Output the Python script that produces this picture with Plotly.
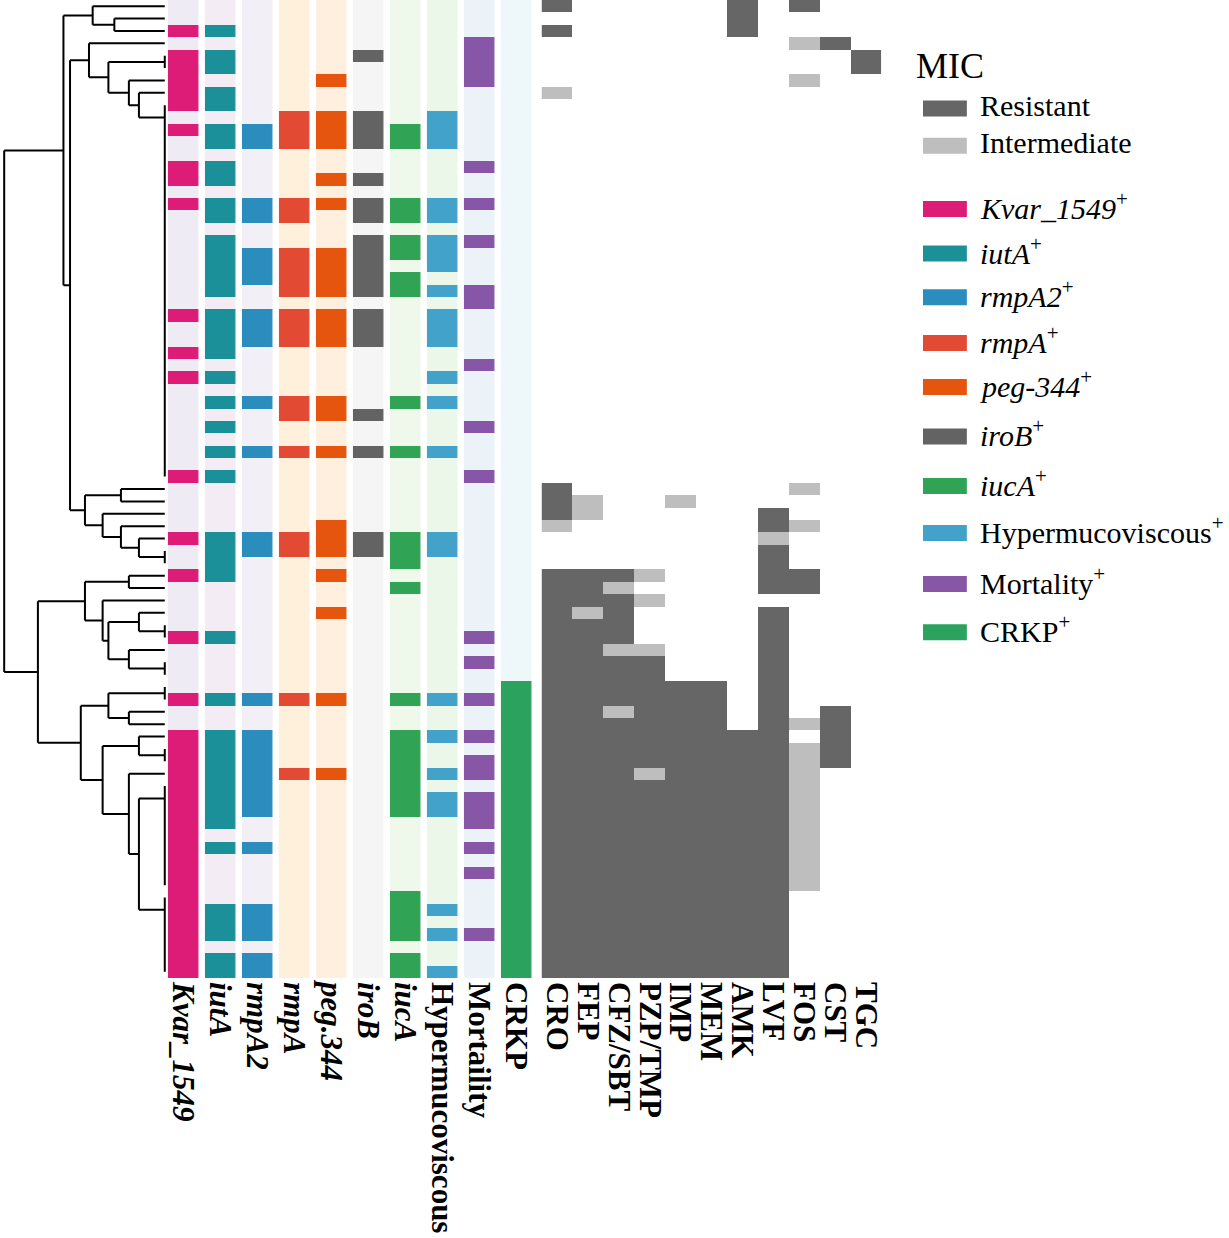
import plotly.graph_objects as go

N_ROWS = 79

# ---------------- annotation columns (rows that are positive) ----------------
ANNOT_NAMES = ["Kvar_1549", "iutA", "rmpA2", "rmpA", "peg.344", "iroB", "iucA",
               "Hypermucoviscous", "Mortaility", "CRKP"]
ANNOT_ITALIC = [True, True, True, True, True, True, True, False, False, False]
LEGEND_NAMES = ["Kvar_1549", "iutA", "rmpA2", "rmpA", "peg-344", "iroB", "iucA",
                "Hypermucoviscous", "Mortality", "CRKP"]
POS_COLORS = ["#DD1C77", "#1C9099", "#2B8CBE", "#E34A33", "#E6550D", "#636363",
              "#31A354", "#43A2CA", "#8856A7", "#2CA25F"]
NEG_COLORS = ["#EFEBF5", "#F3ECF5", "#F3EFF7", "#FEF0DB", "#FEEFDF", "#F5F5F5",
              "#EEF8EB", "#EBF7E8", "#EBF3F8", "#EEF8FB"]

KVAR_1549 = [2, 4, 5, 6, 7, 8, 10, 13, 14, 16, 25, 28, 30, 38, 43, 46, 51, 56,
             59, 60, 61, 62, 63, 64, 65, 66, 67, 68, 69, 70, 71, 72, 73, 74, 75, 76, 77, 78]
IUTA = [2, 4, 5, 7, 8, 10, 11, 13, 14, 16, 17, 19, 20, 21, 22, 23, 25, 26, 27, 28, 30,
        32, 34, 36, 38, 43, 44, 45, 46, 51, 56, 59, 60, 61, 62, 63, 64, 65, 66, 68,
        73, 74, 75, 77, 78]
RMPA2 = [10, 11, 16, 17, 20, 21, 22, 25, 26, 27, 32, 36, 43, 44, 56, 59, 60, 61, 62,
         63, 64, 65, 68, 73, 74, 75, 77, 78]
RMPA = [9, 10, 11, 16, 17, 20, 21, 22, 23, 25, 26, 27, 32, 33, 36, 43, 44, 56, 62]
PEG344 = [6, 9, 10, 11, 14, 16, 20, 21, 22, 23, 25, 26, 27, 32, 33, 36, 42, 43, 44,
          46, 49, 56, 62]
IROB = [4, 9, 10, 11, 14, 16, 17, 19, 20, 21, 22, 23, 25, 26, 27, 33, 36, 43, 44]
IUCA = [10, 11, 16, 17, 19, 20, 22, 23, 32, 36, 43, 44, 45, 47, 56, 59, 60, 61, 62,
        63, 64, 65, 72, 73, 74, 75, 77, 78]
HYPERMUCOVISCOUS = [9, 10, 11, 16, 17, 19, 20, 21, 23, 25, 26, 27, 30, 32, 36, 43, 44,
                    56, 59, 62, 64, 65, 73, 75, 78]
MORTALITY = [3, 4, 5, 6, 13, 16, 19, 23, 24, 29, 34, 38, 51, 53, 56, 59, 61, 62, 64,
             65, 66, 68, 70, 75]
CRKP = [55, 56, 57, 58, 59, 60, 61, 62, 63, 64, 65, 66, 67, 68, 69, 70, 71, 72, 73,
        74, 75, 76, 77, 78]
ANNOT_DATA = [KVAR_1549, IUTA, RMPA2, RMPA, PEG344, IROB, IUCA, HYPERMUCOVISCOUS,
              MORTALITY, CRKP]

# ---------------- MIC (S = '.', I = intermediate, R = resistant) ----------------
MIC_NAMES = ["CRO", "FEP", "CFZ/SBT", "PZP/TMP", "IMP", "MEM", "AMK", "LVF", "FOS",
             "CST", "TGC"]
MIC_DATA = {
    "CRO":     "R.R....I.. .......... .......... .........R RRI...RRRR RRRRRRRRRR RRRRRRRRRR RRRRRRRRR",
    "FEP":     ".......... .......... .......... .......... II....RRRI RRRRRRRRRR RRRRRRRRRR RRRRRRRRR",
    "CFZ/SBT": ".......... .......... .......... .......... ......RIRR RRIRRRRIRR RRRRRRRRRR RRRRRRRRR",
    "PZP/TMP": ".......... .......... .......... .......... ......I.I. ..IRRRRRRR RRIRRRRRRR RRRRRRRRR",
    "IMP":     ".......... .......... .......... .......... I......... .....RRRRR RRRRRRRRRR RRRRRRRRR",
    "MEM":     ".......... .......... .......... .......... .......... .....RRRRR RRRRRRRRRR RRRRRRRRR",
    "AMK":     "RRR....... .......... .......... .......... .......... .........R RRRRRRRRRR RRRRRRRRR",
    "LVF":     ".......... .......... .......... .......... .RRIRRRR.R RRRRRRRRRR RRRRRRRRRR RRRRRRRRR",
    "FOS":     "R..I..I... .......... .......... .........I ..I...RR.. ........I. IIIIIIIIII II.......",
    "CST":     "...R...... .......... .......... .......... .......... .......RRR RR........ .........",
    "TGC":     "....RR.... .......... .......... .......... .......... .......... .......... .........",
}
MIC_CODES = {".": 0, "I": 1, "R": 2}
MIC_COLORS = ["#FFFFFF", "#BEBEBE", "#666666"]
MIC_LEGEND = ["Resistant", "Intermediate"]

# ---------------- dendrogram: [height, child, child, ...]; ints are rows ----------------
TREE = [1.0,
        [0.631,
         [0.449, 0, [0.314, 1, 2]],
         [0.590,
          [0.472, 3,
           [0.351, [0.0, 4, 5],
            [0.2235, 6,
             [0.161, 7,
              [0.0, 8, 9, 10, 11, 12, 13, 14, 15, 16, 17, 18, 19, 20, 21, 22, 23, 24,
               25, 26, 27, 28, 29, 30, 31, 32, 33, 34, 35, 36, 37, 38]]]]],
          [0.497, [0.273, 39, 40],
           [0.387, 41, [0.273, 42, [0.161, 43, [0.0, 44, 45]]]]]]],
        [0.790,
         [0.497, [0.2235, 46, 47],
          [0.387, 48, [0.351, [0.161, 49, [0.0, 50, 51]], [0.2235, 52, [0.0, 53, 54]]]]],
         [0.523,
          [0.351, [0.0, 55, 56], [0.2235, 57, 58]],
          [0.387, [0.161, 59, [0.0, 60, 61]],
           [0.2235, 62, [0.161, [0.0, 63, 64, 65, 66, 67, 68, 69, 70, 71],
                         [0.0, 72, 73, 74, 75, 76, 77, 78]]]]]]]

# ---------------- build traces ----------------
seg_x, seg_y = [], []


def walk(node):
    if isinstance(node, int):
        return float(node), 0.0
    h = node[0]
    info = [walk(c) for c in node[1:]]
    ys = [p for p, _ in info]
    seg_x.extend([h, h, None])
    seg_y.extend([min(ys), max(ys), None])
    for p, ch in info:
        if h > ch:
            seg_x.extend([h, ch, None])
            seg_y.extend([p, p, None])
    pos = ys[-1]
    for p in reversed(ys[:-1]):
        pos = (p + pos) / 2.0
    return pos, h


walk(TREE)

rows = list(range(N_ROWS))
annot_z = []
for r in rows:
    annot_z.append([2 * c + (1 if r in ANNOT_DATA[c] else 0) for c in range(len(ANNOT_NAMES))])

n_cat = 2 * len(ANNOT_NAMES)
annot_scale = []
for c in range(len(ANNOT_NAMES)):
    for k, col in enumerate([NEG_COLORS[c], POS_COLORS[c]]):
        idx = 2 * c + k
        annot_scale.append([idx / n_cat, col])
        annot_scale.append([(idx + 1) / n_cat, col])

mic_strings = [MIC_DATA[m].replace(" ", "") for m in MIC_NAMES]
mic_z = [[MIC_CODES[s[r]] for s in mic_strings] for r in rows]
mic_scale = []
for k, col in enumerate(MIC_COLORS):
    mic_scale.append([k / 3, col])
    mic_scale.append([(k + 1) / 3, col])

fig = go.Figure()
fig.add_trace(go.Scatter(x=seg_x, y=seg_y, mode="lines", xaxis="x", yaxis="y",
                         line=dict(color="black", width=2), hoverinfo="skip",
                         showlegend=False))
fig.add_trace(go.Heatmap(x=list(range(len(ANNOT_NAMES))), y=rows, z=annot_z,
                         xaxis="x2", yaxis="y", colorscale=annot_scale,
                         zmin=-0.5, zmax=n_cat - 0.5, showscale=False, xgap=6.5,
                         hoverinfo="skip"))
fig.add_trace(go.Heatmap(x=list(range(len(MIC_NAMES))), y=rows, z=mic_z,
                         xaxis="x3", yaxis="y", colorscale=mic_scale,
                         zmin=-0.5, zmax=2.5, showscale=False, hoverinfo="skip"))

# ---------------- layout ----------------
W, H = 1229, 1238


def fx(px):
    return px / W


def fy(py):
    return 1 - py / H


FONT = "Liberation Serif"
tick_font = dict(family=FONT, size=31, color="black")
annot_ticktext = [("<b><i>%s</i></b>" % n) if it else ("<b>%s</b>" % n)
                  for n, it in zip(ANNOT_NAMES, ANNOT_ITALIC)]
mic_ticktext = ["<b>%s</b>" % n for n in MIC_NAMES]

common_x = dict(showgrid=False, zeroline=False, showline=False, ticks="",
                tickangle=90, tickfont=tick_font, anchor="y", fixedrange=True,
                ticklabelstandoff=3)

fig.update_layout(
    width=W, height=H, margin=dict(l=0, r=0, t=0, b=0),
    paper_bgcolor="white", plot_bgcolor="rgba(0,0,0,0)", showlegend=False,
    xaxis=dict(domain=[0, fx(170)], range=[163.3 / 161.1, -6.7 / 161.1], visible=False,
               fixedrange=True),
    xaxis2=dict(domain=[fx(163.45), fx(534.45)], range=[-0.5, len(ANNOT_NAMES) - 0.5],
                tickmode="array", tickvals=list(range(len(ANNOT_NAMES))),
                ticktext=annot_ticktext, **common_x),
    xaxis3=dict(domain=[fx(541.3), fx(882)], range=[-0.5, len(MIC_NAMES) - 0.5],
                tickmode="array", tickvals=list(range(len(MIC_NAMES))),
                ticktext=mic_ticktext, **common_x),
    yaxis=dict(domain=[fy(978), 1], range=[N_ROWS - 0.5, -0.5], visible=False,
               fixedrange=True),
)

# ---------------- legend (swatches + text) ----------------
legend_y = [108.5, 145.8, 208.9, 253.6, 297.2, 343.1, 387.0, 436.5, 485.9, 533.0, 584.0, 632.2]
legend_labels = MIC_LEGEND + [("<i>%s</i><sup>+</sup>" % n) if it else ("%s<sup>+</sup>" % n)
                              for n, it in zip(LEGEND_NAMES, ANNOT_ITALIC)]
legend_colors = [MIC_COLORS[2], MIC_COLORS[1]] + POS_COLORS

shapes = []
annotations = [dict(x=fx(915), y=fy(66), xref="paper", yref="paper", text="MIC",
                    showarrow=False, xanchor="left", yanchor="middle",
                    font=dict(family=FONT, size=36, color="black"))]
for yc, lab, col in zip(legend_y, legend_labels, legend_colors):
    shapes.append(dict(type="rect", xref="paper", yref="paper",
                       x0=fx(924), x1=fx(968), y0=fy(yc - 8), y1=fy(yc + 8),
                       fillcolor=col, line=dict(width=0)))
    annotations.append(dict(x=fx(979), y=fy(yc - 3), xref="paper", yref="paper", text=lab,
                            showarrow=False, xanchor="left", yanchor="middle",
                            font=dict(family=FONT, size=30, color="black")))
fig.update_layout(shapes=shapes, annotations=annotations)

fig.write_html("out.html", config={"displayModeBar": False},
               post_script=("document.body.style.margin='0';"
                            "document.body.style.overflow='hidden';"
                            "document.documentElement.style.overflow='hidden';"))
